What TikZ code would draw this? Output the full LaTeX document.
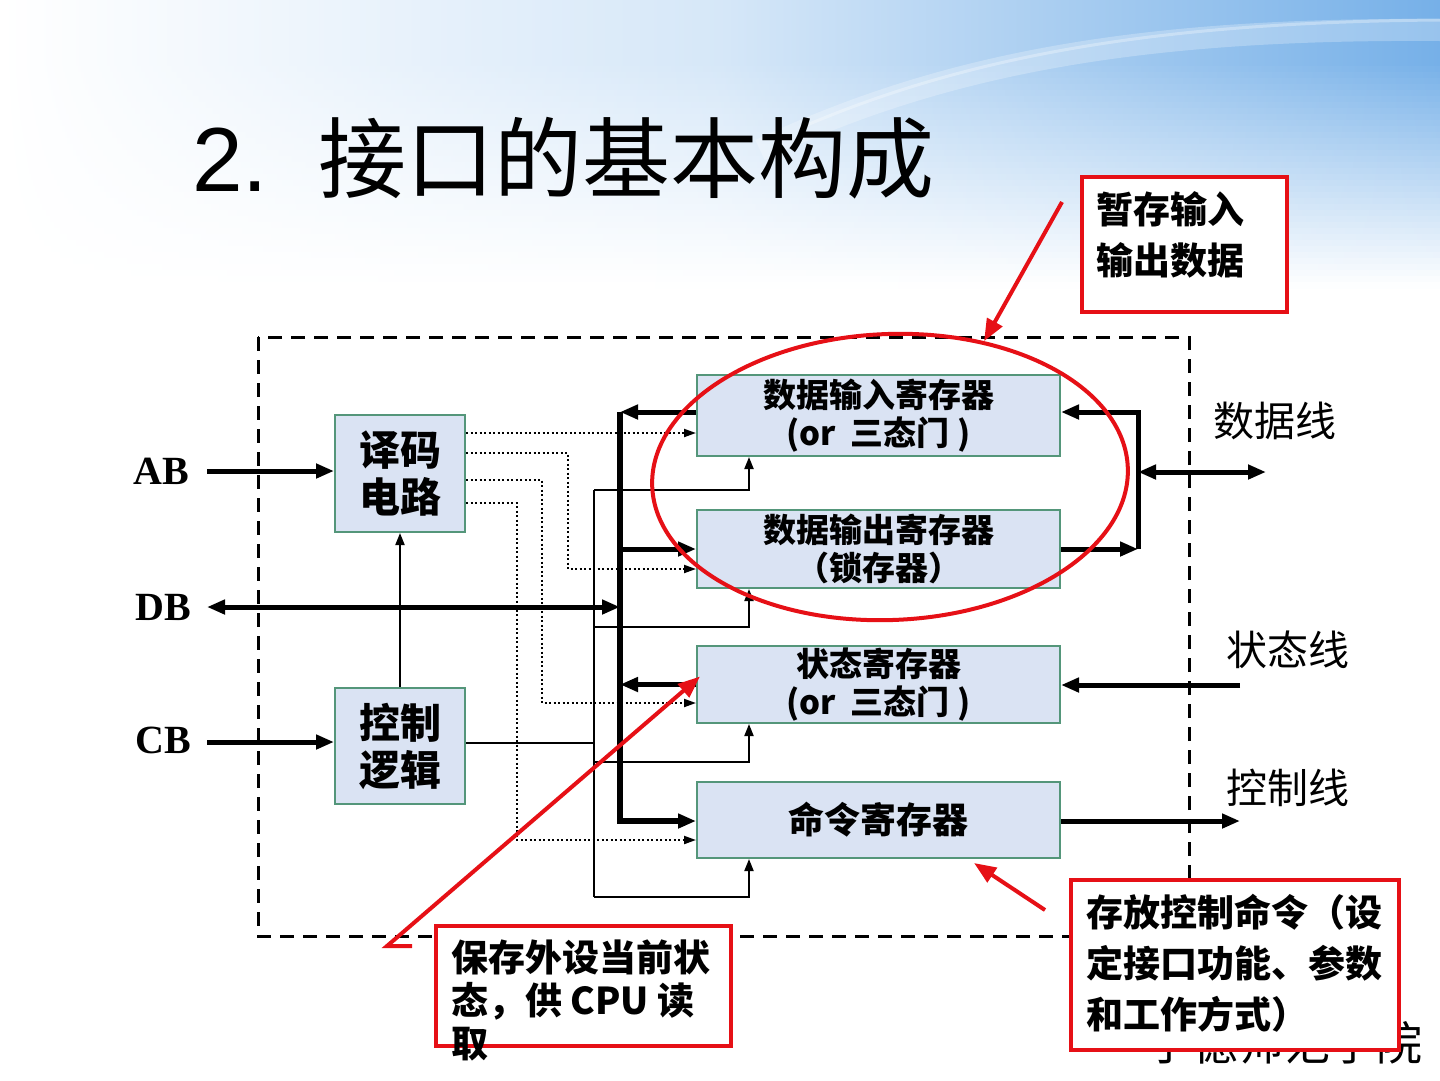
\documentclass[tikz,border=0pt]{standalone}
\usepackage{fontspec}
\newfontfamily\cjk{Noto Sans CJK SC}
\newfontfamily\tms{Liberation Serif}
\newfontfamily\arial{Liberation Sans}
\usetikzlibrary{arrows.meta,shapes.geometric,calc}
\definecolor{boxfill}{RGB}{218,227,243}
\definecolor{boxline}{RGB}{84,150,122}
\definecolor{annred}{RGB}{230,16,22}
\definecolor{bgblue}{RGB}{118,176,232}
\begin{document}
\begin{tikzpicture}[x=1pt,y=-1pt,
  blk/.style={draw=boxline, fill=boxfill, line width=2pt, inner sep=0pt, align=center},
  regtxt/.style={font=\cjk\bfseries\fontsize{33}{38}\selectfont},
  bigtxt/.style={font=\cjk\bfseries\fontsize{41}{47}\selectfont},
  bustxt/.style={font=\tms\bfseries\fontsize{40}{44}\selectfont},
  linetxt/.style={font=\cjk\fontsize{41}{46}\selectfont},
  tarrow/.style={line width=5pt, -{Triangle[length=18pt,width=14pt]}},
  tboth/.style={line width=5pt, {Triangle[length=18pt,width=14pt]}-{Triangle[length=18pt,width=14pt]}},
  tline/.style={line width=5pt},
  thinarr/.style={line width=2pt, -{Triangle[length=12pt,width=9pt]}},
  thinln/.style={line width=2pt},
  dotarr/.style={line width=2pt, dash pattern=on 2pt off 2.5pt, -{Triangle[length=12pt,width=8pt]}},
  dashbox/.style={line width=3pt, dash pattern=on 14pt off 9pt},
  redarr/.style={draw=annred, line width=4pt, -{Triangle[length=22pt,width=17pt]}},
  notebox/.style={draw=annred, line width=3.5pt, fill=white, inner sep=0pt},
  notetxt/.style={font=\cjk\bfseries\fontsize{37}{51}\selectfont, align=left, inner sep=0pt, anchor=west}
]
\useasboundingbox (0,0) rectangle (1440,1080);
\fill[white] (0,0) rectangle (1440,1080);
% background gradient
\foreach \i in {0,...,47} {
  \pgfmathsetmacro\yy{\i*6}
  \pgfmathsetmacro\ff{\yy<60 ? 100 : max(0,100*(1-(\yy-60)/225))}
  \pgfmathsetmacro\gg{0.3*\ff}
  \shade[left color=white, right color=bgblue!\ff!white, middle color=bgblue!\gg!white] (0,\yy) rectangle (1440,\yy+6.6);
}
\draw[white, opacity=0.25, line width=22pt] (760,150) .. controls (950,60) and (1150,28) .. (1440,30);
\draw[white, opacity=0.3, line width=3pt] (800,128) .. controls (980,50) and (1180,22) .. (1440,20);

% title
\node[anchor=west, font=\arial\fontsize{91}{100}\selectfont, inner sep=0pt] (tnum) at (192,160) {2.};
\node[anchor=west, font=\cjk\fontsize{88}{96}\selectfont, inner sep=0pt] (title) at (318,158) {接口的基本构成};

% dashed interface boundary
\draw[dashbox] (258,337) rectangle (1189,936);

% blocks
\node[blk, minimum width=130pt, minimum height=117pt, bigtxt] (dec) at (400,473.5) {译码\\电路};
\node[blk, minimum width=130pt, minimum height=116pt, bigtxt] (ctl) at (400,746) {控制\\逻辑};
\node[blk, minimum width=363pt, minimum height=81pt, regtxt] (r1) at (878.5,415.5) {数据输入寄存器\\(or\ \ 三态门 )};
\node[blk, minimum width=363pt, minimum height=78pt, regtxt] (r2) at (878.5,549) {数据输出寄存器\\（锁存器）};
\node[blk, minimum width=363pt, minimum height=77pt, regtxt] (r3) at (878.5,684.5) {状态寄存器\\(or\ \ 三态门 )};
\node[blk, minimum width=363pt, minimum height=76pt, font=\cjk\bfseries\fontsize{36}{40}\selectfont] (r4) at (878.5,820) {命令寄存器};

% bus labels
\node[bustxt] (ab) at (161,471) {AB};
\node[bustxt] (db) at (163,607) {DB};
\node[bustxt] (cb) at (163,740) {CB};
\coordinate (abL) at (207,471);
\coordinate (dbL) at (207,607);
\coordinate (cbL) at (207,742);
\draw[tarrow] (abL) -- (abL -| dec.west);
\draw[tarrow] (cbL) -- (cbL -| ctl.west);
\draw[thinarr] (ctl.north) -- (dec.south);

% internal bus
\coordinate (bt) at (620,412);
\coordinate (bb) at (620,821);
\draw[tarrow, line width=6pt] (bt) -- (bb) -- (r4.west |- bb);
\draw[tarrow] (r1.west |- bt) -- (bt);
\draw[tarrow] (r2.west -| bt) -- (r2.west);
\draw[tarrow] (r3.west) -- (r3.west -| bt);
\draw[tboth] (dbL) -- (dbL -| bt);

% decoder select lines (dotted)
\draw[dotarr] (dec.east |- 0,433) -- (r1.west |- 0,433);
\draw[dotarr] (dec.east |- 0,453) -| (568,569) -- (r2.west |- 0,569);
\draw[dotarr] (dec.east |- 0,480) -| (542,703) -- (r3.west |- 0,703);
\draw[dotarr] (dec.east |- 0,503) -| (517,840) -- (r4.west |- 0,840);

% control logic lines
\coordinate (cvt) at (594,490);
\coordinate (cvb) at (594,897);
\draw[thinln] (ctl.east |- 0,743) -- (594,743);
\draw[thinln] (cvt) -- (cvb);
\draw[thinarr] (cvt) -| (r1.south -| 749,0);
\draw[thinarr] (594,627) -| (r2.south -| 749,0);
\draw[thinarr] (594,762) -| (r3.south -| 749,0);
\draw[thinarr] (cvb) -| (r4.south -| 749,0);

% right side
\coordinate (rv) at (1138,412);
\draw[tarrow] (r2.east) -- (r2.east -| rv);
\draw[tarrow] (r2.east -| rv) -- (rv) -- (r1.east |- rv);
\coordinate (dlR) at (1266,472);
\draw[tboth] (rv |- dlR) -- (dlR);
\coordinate (slR) at (1240,685);
\draw[tarrow] (slR) -- (r3.east |- slR);
\coordinate (clR) at (1240,821);
\draw[tarrow] (r4.east |- clR) -- (clR);
\node[linetxt] (dl) at (1275,421) {数据线};
\node[linetxt] (sl) at (1288,650) {状态线};
\node[linetxt] (cl) at (1288,788) {控制线};

% footer text (partly hidden)
\node[anchor=east, font=\cjk\fontsize{46}{50}\selectfont] (school) at (1426,1043) {宁德师范学院};

% red annotations
\node[draw=annred, line width=4pt, ellipse, minimum width=476pt, minimum height=286pt, inner sep=0pt, rotate=2.3] (ell) at (890,477) {};
\coordinate (a1) at (1062,202);
\draw[redarr] (a1) -- (ell.53);
\coordinate (a2a) at (412,946);
\coordinate (a2b) at (387,946);
\draw[redarr] (a2a) -- (a2b) -- ($(r3.west)+(4,-8)$);
\coordinate (a3) at (1045,910);
\draw[redarr] (a3) -- ($(r4.south east)+(-87,4)$);

\node[notebox, minimum width=205pt, minimum height=135pt] (n1box) at (1184.5,244.5) {};
\node[notetxt] (n1) at (1096,234.5) {暂存输入\\输出数据};
\node[notebox, minimum width=295pt, minimum height=120pt] (n2box) at (583.5,986) {};
\node[notetxt, font=\cjk\bfseries\fontsize{37}{43}\selectfont] (n2) at (451,1000.5) {保存外设当前状\\态，供 CPU 读\\取};
\node[notebox, minimum width=328pt, minimum height=170pt] (n3box) at (1235,965) {};
\node[notetxt] (n3) at (1086,963.5) {存放控制命令（设\\定接口功能、参数\\和工作方式）};
\end{tikzpicture}
\end{document}
